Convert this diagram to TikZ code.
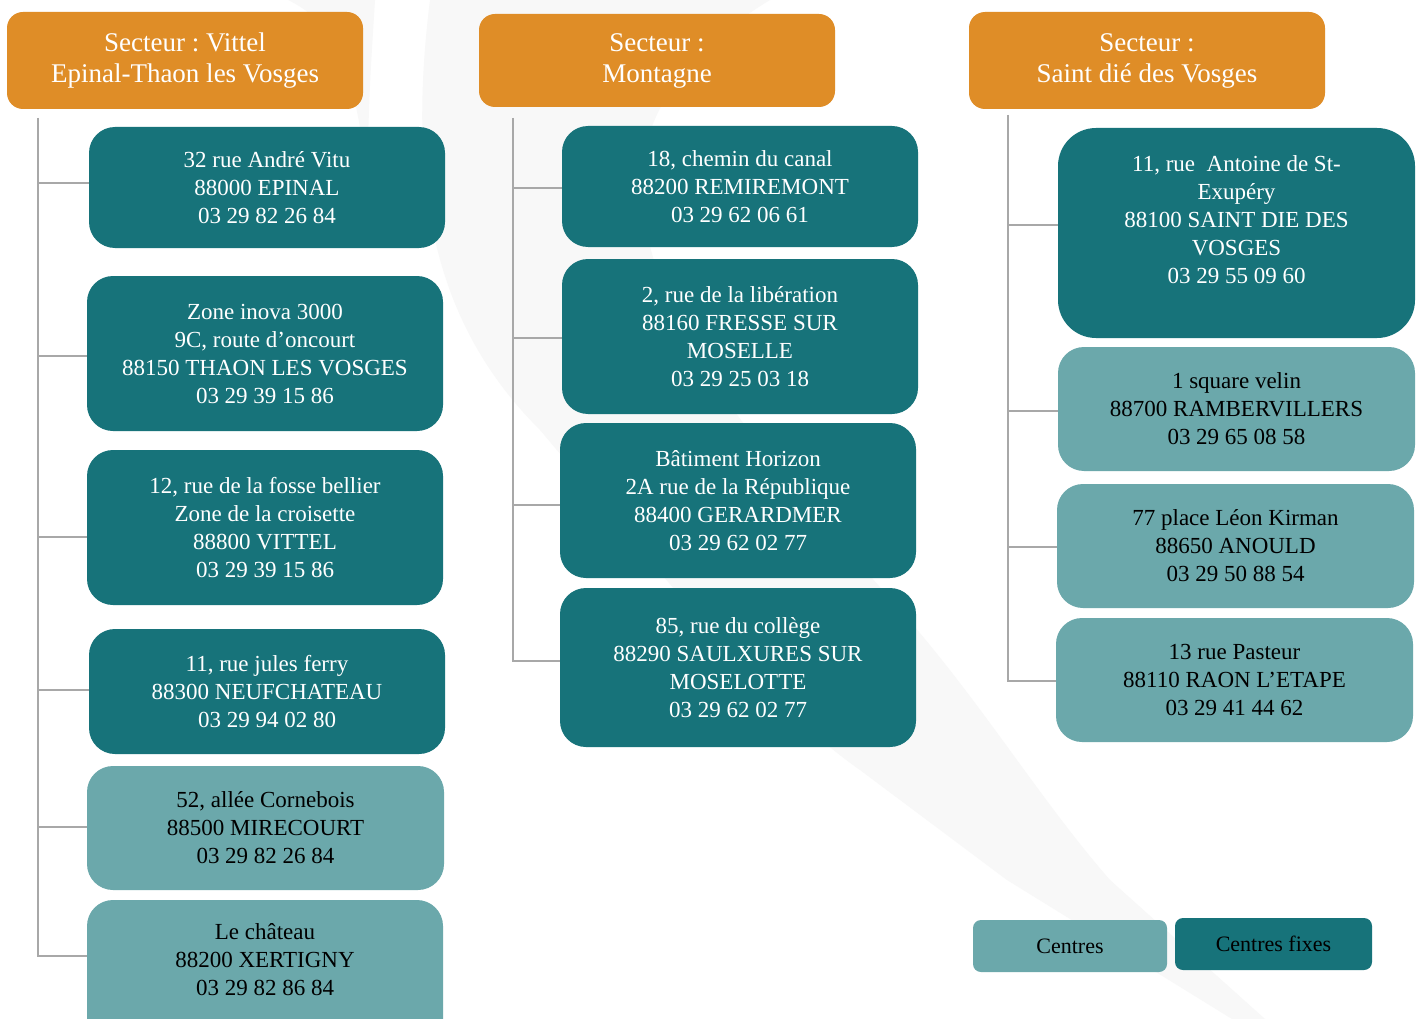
\documentclass[tikz,border=0pt]{standalone}
\usepackage{fontspec}
\setmainfont{Liberation Serif}
\frenchspacing
\definecolor{hdrorange}{HTML}{DF8D27}
\definecolor{darkteal}{HTML}{17737A}
\definecolor{lightteal}{HTML}{6BA8AB}
\definecolor{connGray}{HTML}{A8A8A8}
\definecolor{swoosh}{HTML}{F8F8F8}
\tikzset{
  hdr/.style={rectangle, fill=hdrorange, rounded corners=16pt, text=white, align=center, inner sep=0pt,
    font=\fontsize{27}{31}\selectfont, minimum width=356pt},
  fixebox/.style={rectangle, fill=darkteal, rounded corners=26pt, text=white, align=center, inner sep=0pt,
    font=\fontsize{23}{28}\selectfont},
  centrebox/.style={rectangle, fill=lightteal, rounded corners=26pt, text=black, align=center, inner sep=0pt,
    font=\fontsize{23}{28}\selectfont},
  plaintext/.style={align=center, inner sep=0pt, font=\fontsize{23}{28}\selectfont},
  legbox/.style={rectangle, rounded corners=8pt, text=black, align=center, inner sep=0pt,
    font=\fontsize{22}{26}\selectfont, minimum height=52pt},
  conn/.style={draw=connGray, line width=2.4pt}
}
\begin{document}
\begin{tikzpicture}[x=1pt,y=-1pt]
\useasboundingbox (0,0) rectangle (1424,1019);
\clip (0,0) rectangle (1424,1019);
\fill[white] (0,0) rectangle (1424,1019);
% faint background swooshes
\fill[swoosh] (430,0) .. controls (405,200) and (440,330) .. (540,430)
  .. controls (650,560) and (760,700) .. (860,770) -- (1007,880) -- (1232,1019)
  -- (1265,1019) -- (1110,880) .. controls (1040,800) and (980,700) .. (900,610)
  .. controls (760,450) and (620,300) .. (645,150) .. controls (660,80) and (720,30) .. (770,0) -- cycle;
\fill[swoosh] (288,0) .. controls (330,20) and (350,60) .. (362,140) -- (368,140) .. controls (370,80) .. (375,0) -- cycle;

% headers
\node[hdr, minimum height=97pt] (h1) at (185,60.5) {Secteur : Vittel\\Epinal-Thaon les Vosges};
\node[hdr, minimum height=93pt] (h2) at (657,60.5) {Secteur :\\Montagne};
\node[hdr, minimum height=97pt] (h3) at (1147,60.5) {Secteur :\\Saint dié des Vosges};

% left column
\node[fixebox, minimum width=356pt, minimum height=121pt] (l1) at (267,187.5) {32 rue André Vitu\\88000 EPINAL\\03 29 82 26 84};
\node[fixebox, minimum width=356pt, minimum height=155pt] (l2) at (265,353.5) {Zone inova 3000\\9C, route d'oncourt\\88150 THAON LES VOSGES\\03 29 39 15 86};
\node[fixebox, minimum width=356pt, minimum height=155pt] (l3) at (265,527.5) {12, rue de la fosse bellier\\Zone de la croisette\\88800 VITTEL\\03 29 39 15 86};
\node[fixebox, minimum width=356pt, minimum height=125pt] (l4) at (267,691.5) {11, rue jules ferry\\88300 NEUFCHATEAU\\03 29 94 02 80};
\node[centrebox, minimum width=357pt, minimum height=124pt] (l5) at (265.5,828) {52, allée Cornebois\\88500 MIRECOURT\\03 29 82 26 84};
\node[centrebox, minimum width=356pt, minimum height=150pt] (l6) at (265,975) {};
\node[plaintext, text=black] (l6t) at (265,960) {Le château\\88200 XERTIGNY\\03 29 82 86 84};

% middle column
\node[fixebox, minimum width=356pt, minimum height=121pt] (m1) at (740,186.5) {18, chemin du canal\\88200 REMIREMONT\\03 29 62 06 61};
\node[fixebox, minimum width=356pt, minimum height=155pt] (m2) at (740,336.5) {2, rue de la libération\\88160 FRESSE SUR\\MOSELLE\\03 29 25 03 18};
\node[fixebox, minimum width=356pt, minimum height=155pt] (m3) at (738,500.5) {Bâtiment Horizon\\2A rue de la République\\88400 GERARDMER\\03 29 62 02 77};
\node[fixebox, minimum width=356pt, minimum height=159pt] (m4) at (738,667.5) {85, rue du collège\\88290 SAULXURES SUR\\MOSELOTTE\\03 29 62 02 77};

% right column
\node[fixebox, rounded corners=38pt, minimum width=357pt, minimum height=210pt] (r1) at (1236.5,233) {};
\node[plaintext, text=white] (r1t) at (1236.5,220) {11, rue\ \ Antoine de St-\\Exupéry\\88100 SAINT DIE DES\\VOSGES\\03 29 55 09 60};
\node[centrebox, minimum width=357pt, minimum height=124pt] (r2) at (1236.5,409) {1 square velin\\88700 RAMBERVILLERS\\03 29 65 08 58};
\node[centrebox, minimum width=357pt, minimum height=124pt] (r3) at (1235.5,546) {77 place Léon Kirman\\88650 ANOULD\\03 29 50 88 54};
\node[centrebox, minimum width=357pt, minimum height=124pt] (r4) at (1234.5,680) {13 rue Pasteur\\88110 RAON L’ETAPE\\03 29 41 44 62};

% legend
\node[legbox, fill=lightteal, minimum width=194pt] (legc) at (1070,946) {Centres};
\node[legbox, fill=darkteal, minimum width=197pt] (legf) at (1273.5,944) {Centres fixes};

% connectors
\coordinate (lt) at (38,118);
\coordinate (mt) at (513,118);
\coordinate (rt) at (1008,115);
\coordinate (l6c) at (l6.west |- 0,956);
\draw[conn] (lt) |- (l6c);
\foreach \n/\y in {l1/183, l2/356, l3/537, l4/690, l5/827}{
  \draw[conn] (lt |- 0,\y) -- (\n.west |- 0,\y);
}
\coordinate (m4c) at (m4.west |- 0,661);
\draw[conn] (mt) |- (m4c);
\foreach \n/\y in {m1/188, m2/338, m3/505}{
  \draw[conn] (mt |- 0,\y) -- (\n.west |- 0,\y);
}
\coordinate (r4c) at (r4.west |- 0,681);
\draw[conn] (rt) |- (r4c);
\foreach \n/\y in {r1/225, r2/411, r3/547}{
  \draw[conn] (rt |- 0,\y) -- (\n.west |- 0,\y);
}
\end{tikzpicture}
\end{document}
